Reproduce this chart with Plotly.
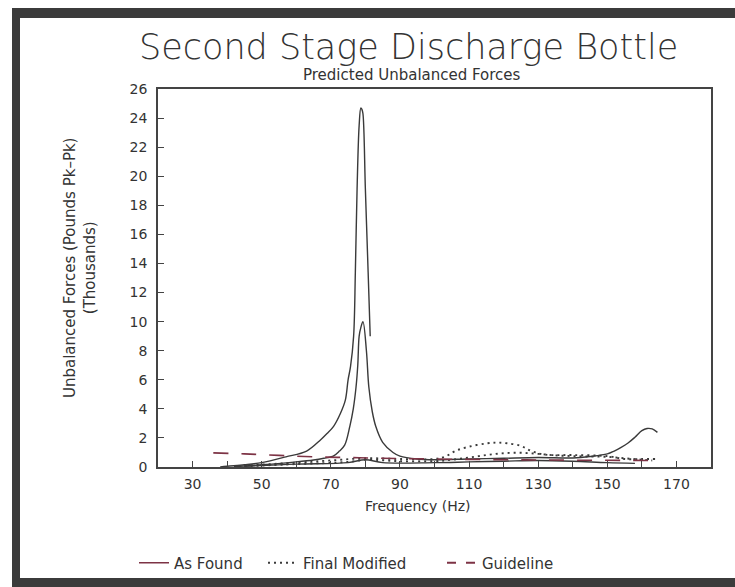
import plotly.graph_objects as go

# ---------------- data ----------------
as_found_1_x = [38, 40, 45, 50, 57, 63, 67, 68.9, 70.8, 72.8, 74.2, 75.0, 75.7, 76.6, 77.1, 77.6, 78.2, 78.7, 79.0, 79.3, 80.0, 80.8, 81.4]
as_found_1_y = [0.0, 0.05, 0.15, 0.3, 0.7, 1.1, 1.86, 2.3, 2.8, 3.7, 4.6, 6.0, 6.9, 9.0, 13.4, 19.1, 23.5, 24.7, 24.6, 24.3, 19.1, 13.4, 9.0]

as_found_2_x = [42, 50, 60, 65, 68, 70.7, 72.5, 74.0, 75.5, 76.5, 77.3, 77.8, 78.2, 78.7, 79.3, 80.3, 81.0, 82.0, 83.0, 85.0, 88.0, 90.0, 95.0, 100, 110, 120, 130, 140, 145, 150, 152, 154, 156, 158, 160, 161.5, 163, 164.5]
as_found_2_y = [0.02, 0.15, 0.35, 0.48, 0.6, 0.75, 1.1, 1.5, 2.8, 4.0, 5.5, 7.0, 9.0, 9.6, 10.0, 8.0, 5.5, 3.8, 2.8, 1.7, 1.0, 0.75, 0.55, 0.5, 0.55, 0.6, 0.65, 0.62, 0.72, 0.9, 1.1, 1.35, 1.65, 2.05, 2.5, 2.65, 2.62, 2.38]

as_found_3_x = [45, 60, 75, 80, 85, 100, 110, 120, 130, 140, 150, 158]
as_found_3_y = [0.05, 0.2, 0.3, 0.5, 0.3, 0.3, 0.35, 0.4, 0.45, 0.4, 0.3, 0.25]

final_mod_1_x = [45, 60, 70, 80, 90, 100, 103, 106, 110, 115, 118, 121, 125, 128, 132, 140, 150, 155, 160, 164]
final_mod_1_y = [0.1, 0.3, 0.45, 0.6, 0.55, 0.55, 0.7, 1.1, 1.4, 1.62, 1.68, 1.63, 1.45, 1.1, 0.85, 0.82, 0.75, 0.55, 0.55, 0.55]

final_mod_2_x = [45, 60, 75, 80, 90, 100, 105, 110, 115, 120, 125, 130, 135, 140, 145, 150, 155, 160, 163]
final_mod_2_y = [0.05, 0.2, 0.35, 0.5, 0.4, 0.4, 0.5, 0.65, 0.82, 0.95, 0.98, 0.9, 0.8, 0.75, 0.72, 0.7, 0.6, 0.5, 0.45]

guideline_x = [36, 45, 55, 65, 75, 85, 100, 120, 140, 165]
guideline_y = [0.97, 0.9, 0.8, 0.7, 0.65, 0.6, 0.55, 0.5, 0.47, 0.45]

x_tick_vals = [30, 50, 70, 90, 110, 130, 150, 170]
y_tick_vals = [0, 2, 4, 6, 8, 10, 12, 14, 16, 18, 20, 22, 24, 26]

legend_names = ["As Found", "Final Modified", "Guideline"]

# ---------------- styling ----------------
W, H = 735, 587
L, R, T, B = 158, 711, 89, 467   # plot area pixel edges
FONT = "DejaVu Sans"
INK = "#333333"
LINE = "#3a3a3a"
MAROON = "#7d3345"


def px(p):
    return (p - L) / (R - L)


def py(p):
    return (B - p) / (B - T)


fig = go.Figure()

solid = dict(color=LINE, width=1.4)
for xs, ys in [(as_found_1_x, as_found_1_y), (as_found_2_x, as_found_2_y), (as_found_3_x, as_found_3_y)]:
    fig.add_trace(go.Scatter(x=xs, y=ys, mode="lines", line=solid, showlegend=False,
                             line_shape="spline"))
for xs, ys in [(final_mod_1_x, final_mod_1_y), (final_mod_2_x, final_mod_2_y)]:
    fig.add_trace(go.Scatter(x=xs, y=ys, mode="lines", showlegend=False, line_shape="spline",
                             line=dict(color=LINE, width=1.9, dash="2px,4px")))
fig.add_trace(go.Scatter(x=guideline_x, y=guideline_y, mode="lines", showlegend=False,
                         line_shape="spline",
                         line=dict(color=MAROON, width=1.6, dash="15px,13px")))

# legend entries (three separately positioned legends)
leg_styles = [dict(color=MAROON, width=1.6),
              dict(color=LINE, width=1.8, dash="2px,4px"),
              dict(color=MAROON, width=2, dash="9px,10px")]
leg_ids = ["legend", "legend2", "legend3"]
for name, st, lid in zip(legend_names, leg_styles, leg_ids):
    fig.add_trace(go.Scatter(x=[None], y=[None], mode="lines", name=name, line=st,
                             legend=lid, showlegend=True))

leg_common = dict(orientation="h", yanchor="middle", xanchor="left", bgcolor="rgba(0,0,0,0)",
                  font=dict(family=FONT, size=15, color=INK), borderwidth=0)
fig.update_layout(
    legend=dict(x=px(134), y=py(563), **leg_common),
    legend2=dict(x=px(263), y=py(563), **leg_common),
    legend3=dict(x=px(442), y=py(563), **leg_common),
)

axis_common = dict(showline=True, linecolor="#444444", linewidth=1.5, mirror=True,
                   showgrid=False, zeroline=False, ticks="inside", ticklen=6,
                   tickcolor="#444444", tickwidth=1.2,
                   tickfont=dict(family=FONT, size=14, color=INK))

fig.update_xaxes(range=[20, 180], tickvals=x_tick_vals, ticklabelstandoff=3,
                 minor=dict(dtick=10, tick0=0, ticks="inside", ticklen=6, tickcolor="#444444", tickwidth=1.2),
                 **axis_common)
fig.update_yaxes(range=[0, 26], tickvals=y_tick_vals, ticklabelstandoff=6, **axis_common)

# scanned-page frame
frame = "#3b3b3b"
shapes = [
    dict(type="rect", xref="paper", yref="paper", x0=px(12), x1=px(740), y0=py(8), y1=py(18),
         fillcolor=frame, line=dict(width=0)),
    dict(type="rect", xref="paper", yref="paper", x0=px(12), x1=px(20), y0=py(8), y1=py(590),
         fillcolor=frame, line=dict(width=0)),
    dict(type="rect", xref="paper", yref="paper", x0=px(12), x1=px(740), y0=py(578), y1=py(590),
         fillcolor=frame, line=dict(width=0)),
]

annotations = [
    dict(text="Second Stage Discharge Bottle", xref="paper", yref="paper", x=px(408), y=py(47),
         showarrow=False, xanchor="center", yanchor="middle",
         font=dict(family=FONT, size=35, color=INK, weight=200)),
    dict(text="Predicted Unbalanced Forces", xref="paper", yref="paper", x=px(412), y=py(75),
         showarrow=False, xanchor="center", yanchor="middle",
         font=dict(family=FONT, size=15, color=INK)),
    dict(text="Unbalanced Forces (Pounds Pk\u2013Pk)<br>(Thousands)", xref="paper", yref="paper",
         x=px(80), y=py(268), textangle=-90, showarrow=False, xanchor="center", yanchor="middle",
         font=dict(family=FONT, size=15, color=INK)),
    dict(text="Frequency (Hz)", xref="paper", yref="paper", x=px(418), y=py(506),
         showarrow=False, xanchor="center", yanchor="middle",
         font=dict(family=FONT, size=14, color=INK)),
]

fig.update_layout(
    width=W, height=H,
    margin=dict(l=L, r=W - R, t=T, b=H - B, autoexpand=False),
    paper_bgcolor="white", plot_bgcolor="white",
    shapes=shapes, annotations=annotations,
    font=dict(family=FONT, color=INK),
)

fig.write_html("out.html", config={"displayModeBar": False},
               post_script="document.body.style.margin='0';document.body.style.padding='0';")
